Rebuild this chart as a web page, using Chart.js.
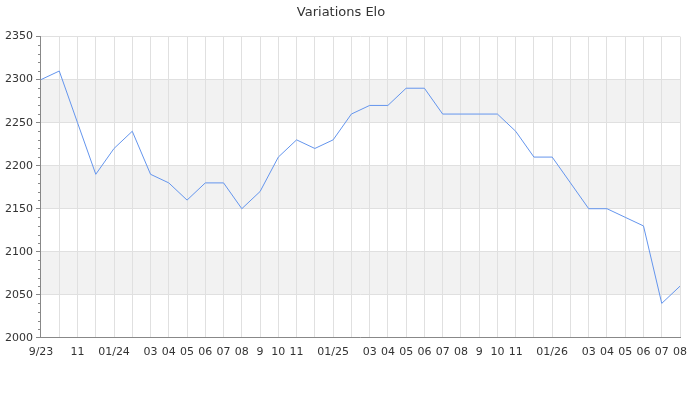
<!DOCTYPE html>
<html>
<head>
<meta charset="utf-8">
<script src="https://cdn.jsdelivr.net/npm/chart.js@4/dist/chart.umd.min.js"></script>
<style>
  html, body { margin: 0; padding: 0; background: #fff; }
  #wrap { width: 700px; height: 400px; position: relative; }
</style>
</head>
<body>
<div id="wrap"><canvas id="eloChart"></canvas></div>
<script>
const months = [
  '2023-09', '2023-10', '2023-11', '2023-12', '2024-01', '2024-02', '2024-03', '2024-04', '2024-05',
  '2024-06', '2024-07', '2024-08', '2024-09', '2024-10', '2024-11', '2024-12', '2025-01', '2025-02',
  '2025-03', '2025-04', '2025-05', '2025-06', '2025-07', '2025-08', '2025-09', '2025-10', '2025-11',
  '2025-12', '2026-01', '2026-02', '2026-03', '2026-04', '2026-05', '2026-06', '2026-07', '2026-08',
];
const tickLabels = [
  '9/23', '', '11', '', '01/24', '', '03', '04', '05',
  '06', '07', '08', '9', '10', '11', '', '01/25', '',
  '03', '04', '05', '06', '07', '08', '9', '10', '11',
  '', '01/26', '', '03', '04', '05', '06', '07', '08',
];
const elo = [
  2300, 2310, 2250, 2190, 2220, 2240, 2190, 2180, 2160,
  2180, 2180, 2150, 2170, 2210, 2230, 2220, 2230, 2260,
  2270, 2270, 2290, 2290, 2260, 2260, 2260, 2260, 2240,
  2210, 2210, 2180, 2150, 2150, 2140, 2130, 2040, 2060,
];
const yMin = 2000, yMax = 2350, yMajor = 50;
const bands = [[2050, 2100], [2150, 2200], [2250, 2300]];

const bandsPlugin = {
  id: 'bands',
  beforeDraw(chart) {
    const { ctx, chartArea: a, scales: { y } } = chart;
    ctx.save();
    ctx.fillStyle = '#f2f2f2';
    bands.forEach(([lo, hi]) => {
      const top = y.getPixelForValue(hi), bot = y.getPixelForValue(lo);
      ctx.fillRect(a.left, top, a.right - a.left, bot - top);
    });
    ctx.restore();
  },
  afterDraw(chart) {
    // short minor ticks on the y axis
    const { ctx, chartArea: a, scales: { y } } = chart;
    ctx.save();
    ctx.strokeStyle = '#888';
    ctx.lineWidth = 1;
    y.ticks.forEach(t => {
      if (t.value % yMajor === 0) return;
      const py = Math.round(y.getPixelForValue(t.value)) + 0.5;
      ctx.beginPath();
      ctx.moveTo(a.left - 3, py);
      ctx.lineTo(a.left, py);
      ctx.stroke();
    });
    ctx.restore();
  },
};

new Chart(document.getElementById('eloChart'), {
  type: 'line',
  data: {
    labels: months,
    datasets: [{
      data: elo,
      borderColor: '#6495ed',
      borderWidth: 1,
      pointRadius: 0,
      tension: 0,
      fill: false,
    }],
  },
  options: {
    responsive: true, maintainAspectRatio: false, animation: false,
    layout: { padding: { left: 2, right: 20, top: 0, bottom: 33 } },
    plugins: {
      legend: { display: false },
      tooltip: { enabled: false },
      title: {
        display: true, text: 'Variations Elo', color: '#333',
        font: { family: 'DejaVu Sans', size: 13, weight: 'normal' },
        padding: { top: 5, bottom: 16 },
      },
    },
    scales: {
      x: {
        offset: false,
        grid: { color: '#e0e0e0', drawTicks: false },
        border: { color: '#888' },
        ticks: {
          autoSkip: false, maxRotation: 0, padding: 8, color: '#333',
          font: { family: 'DejaVu Sans', size: 11 },
          callback: (v, i) => tickLabels[i],
        },
      },
      y: {
        min: yMin, max: yMax,
        grid: {
          color: c => (c.tick && c.tick.value % yMajor === 0) ? '#e0e0e0' : 'rgba(0,0,0,0)',
          tickColor: c => (c.tick && c.tick.value % yMajor === 0) ? '#888' : 'rgba(0,0,0,0)',
          tickLength: 5,
        },
        border: { color: '#888' },
        ticks: {
          stepSize: 10, autoSkip: false, padding: 3, color: '#333',
          font: { family: 'DejaVu Sans', size: 11 },
          callback: v => v % yMajor === 0 ? String(v) : '',
        },
      },
    },
  },
  plugins: [bandsPlugin],
});
</script>
</body>
</html>
